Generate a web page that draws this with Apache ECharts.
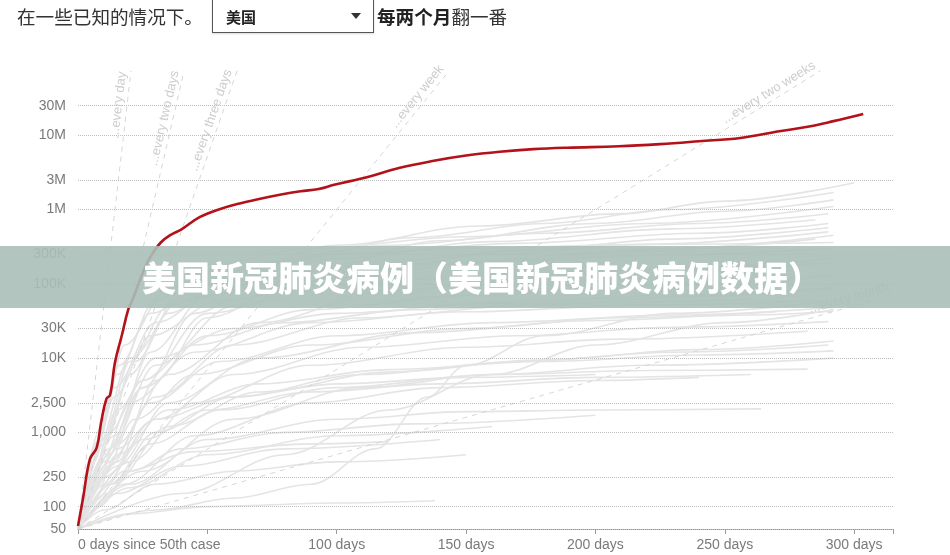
<!DOCTYPE html>
<html>
<head>
<meta charset="UTF-8"/>
<title>美国新冠肺炎病例</title>
<style>
    html, body { margin: 0; padding: 0; background: #fff; }
    #wrap { position: relative; width: 950px; height: 555px; overflow: hidden; }
    #chart { position: absolute; left: 0; top: 0; width: 950px; height: 555px; }
    .head { position: absolute; top: 4px; font-family: "Noto Sans CJK SC", sans-serif; font-size: 18.6px; line-height: 24px; color: #333; white-space: nowrap; }
    .head b { font-weight: 700; color: #222; }
    #pick { position: absolute; left: 212px; top: -1px; width: 162px; height: 34px; box-sizing: border-box; border: 1px solid #555; background: #fff; box-shadow: 0 1px 2px rgba(0,0,0,0.15); }
    #pick span { position: absolute; left: 13px; top: 6px; font-family: "Noto Sans CJK SC", sans-serif; font-size: 15px; font-weight: 700; color: #222; }
    #pick i { position: absolute; left: 138px; top: 13px; width: 0; height: 0; border-left: 5px solid transparent; border-right: 5px solid transparent; border-top: 6px solid #333; }
    #banner { position: absolute; left: 0; top: 246px; width: 950px; height: 62px; box-sizing: border-box; padding-left: 14px; background: rgba(170, 191, 184, 0.9); color: #fff; text-align: center; font-family: "Noto Sans CJK SC", sans-serif; font-weight: 900; font-size: 34px; line-height: 62px; }
</style>
</head>
<body>
<div id="wrap">
    <div id="chart"></div>
    <div class="head" style="left:17px;">在一些已知的情况下。</div>
    <div id="pick"><span>美国</span><i></i></div>
    <div class="head" style="left:377px;"><b>每两个月</b>翻一番</div>
    <div id="banner">美国新冠肺炎病例（美国新冠肺炎病例数据）</div>
</div>
<script type="text/javascript" src="https://cdn.jsdelivr.net/npm/echarts@6.0.0/dist/echarts.min.js"></script>
<script type="text/javascript">

    // 坐标轴刻度
    var xTickDays = [0, 100, 150, 200, 250, 300];
    var xTickLabels = ['0 days since 50th case', '100 days', '150 days', '200 days', '250 days', '300 days'];
    var yTickValues = [50, 100, 250, 1000, 2500, 10000, 25000, 100000, 250000, 1000000, 2500000, 10000000, 25000000];
    var yTickLabels = ['50', '100', '250', '1,000', '2,500', '10K', '30K', '100K', '300K', '1M', '3M', '10M', '30M'];

    // 美国 (天数, 累计病例)
    var usDays = [0, 2, 4.6, 7.2, 9, 11, 12.4, 14.3, 16.9, 19.4, 21, 25, 28, 32, 36, 40, 47, 55, 62.5, 70, 78, 86, 93, 99, 112, 124, 137, 150, 163, 176, 189, 209, 225, 240, 256, 271, 282, 292, 303.5];
    var usCases = [55, 133, 437, 620, 1400, 2850, 3180, 8800, 20000, 45000, 60000, 140000, 230000, 360000, 460000, 540000, 790000, 1020000, 1210000, 1390000, 1580000, 1760000, 1890000, 2150000, 2750000, 3630000, 4500000, 5330000, 6000000, 6500000, 6800000, 7100000, 7600000, 8300000, 9200000, 11300000, 13000000, 15500000, 19400000];

    // 其他国家 (灰线)
    var upperCountries = [
        [[0,50],[10,700],[20,6000],[35,40000],[60,150000],[100,330000],[155,600000],[210,880000],[250,1300000],[300,2300000]],
        [[0,50],[12,500],[25,4000],[45,40000],[80,200000],[130,420000],[180,650000],[230,1000000],[292,1700000]],
        [[0,50],[15,400],[30,5000],[50,35000],[90,150000],[140,380000],[200,650000],[250,950000],[292,1350000]],
        [[0,50],[8,800],[16,8000],[30,60000],[50,180000],[90,300000],[150,430000],[220,650000],[292,1100000]],
        [[0,50],[10,700],[22,9000],[40,80000],[70,200000],[120,330000],[180,480000],[240,650000],[290,880000]],
        [[0,50],[14,900],[28,12000],[50,70000],[100,220000],[160,370000],[230,550000],[285,730000]],
        [[0,50],[9,1200],[18,15000],[35,90000],[60,180000],[110,260000],[170,350000],[240,480000],[290,650000]],
        [[0,50],[12,600],[30,8000],[60,50000],[110,150000],[170,280000],[230,400000],[290,570000]],
        [[0,50],[6,500],[14,4000],[30,30000],[55,90000],[100,170000],[160,250000],[220,340000],[290,500000]],
        [[0,50],[10,400],[25,5000],[50,40000],[100,120000],[160,200000],[230,300000],[292,450000]],
        [[0,50],[8,700],[20,10000],[40,60000],[80,130000],[140,190000],[210,270000],[285,400000]],
        [[0,50],[10,800],[20,9000],[35,50000],[60,150000],[100,250000],[150,300000],[220,340000],[292,360000]],
        [[0,50],[7,700],[15,6000],[28,40000],[50,100000],[90,150000],[150,190000],[220,240000],[290,300000]]
    ];
    var middleCountries = [
        [[0,50],[15,700],[35,6000],[70,30000],[120,80000],[180,130000],[240,170000],[292,220000]],
        [[0,50],[6,400],[14,3000],[28,20000],[55,60000],[100,100000],[160,130000],[230,160000],[292,190000]],
        [[0,50],[10,500],[25,4000],[50,20000],[90,45000],[150,70000],[220,95000],[292,130000]],
        [[0,50],[12,400],[30,3000],[60,15000],[110,35000],[170,50000],[240,68000],[292,90000]],
        [[0,50],[7,300],[15,2000],[30,10000],[60,25000],[100,40000],[160,55000],[230,70000],[292,85000]],
        [[0,50],[8,300],[20,2500],[45,12000],[90,30000],[150,42000],[220,52000],[290,60000]],
        [[0,50],[5,200],[12,1000],[25,5000],[45,15000],[80,30000],[130,45000],[190,55000],[260,62000]],
        [[0,50],[12,350],[28,2500],[55,9000],[100,20000],[160,30000],[230,38000],[292,48000]],
        [[0,50],[15,350],[35,2500],[70,10000],[130,22000],[200,32000],[260,38000],[292,43000]],
        [[0,50],[9,250],[22,1500],[45,6000],[90,15000],[150,25000],[210,35000],[270,42000]],
        [[0,50],[40,150],[80,500],[120,2000],[160,6000],[200,15000],[250,30000],[292,45000]],
        [[0,50],[30,90],[60,130],[90,200],[115,600],[135,3000],[150,8000],[180,20000],[230,40000],[290,58000]],
        [[0,50],[10,250],[30,1500],[60,6000],[110,14000],[170,20000],[230,26000],[290,31000]],
        [[0,50],[20,400],[45,2500],[90,8000],[150,14000],[210,18000],[282,23000]],
        [[0,50],[13,200],[35,1200],[70,3500],[120,6500],[180,9500],[240,13000],[292,17000]],
        [[0,50],[12,200],[30,1000],[60,3000],[110,6000],[170,9000],[230,12000],[290,15000]]
    ];
    var lowerCountries = [
        [[0,50],[5,100],[15,500],[35,2000],[70,4500],[120,7000],[180,9000],[240,11000],[292,12500]],
        [[0,50],[11,150],[28,700],[55,2000],[100,4000],[160,6000],[220,8000],[292,10000]],
        [[0,50],[25,300],[60,1500],[110,4000],[160,6000],[220,6800],[282,7100]],
        [[0,50],[10,200],[25,800],[50,2000],[90,3500],[140,4500],[200,5500],[260,6000]],
        [[0,50],[18,200],[45,900],[90,2500],[140,4000],[200,5000],[240,5500]],
        [[0,50],[5,150],[15,600],[30,1500],[60,3000],[100,4500],[150,5500],[200,6000]],
        [[0,50],[20,200],[50,800],[100,1500],[150,1900],[200,2000],[264,2070]],
        [[0,50],[8,100],[20,300],[40,600],[80,1000],[130,1300],[200,1700]],
        [[0,50],[20,180],[50,500],[100,900],[160,1200]],
        [[0,50],[15,150],[40,350],[80,600],[140,800]],
        [[0,50],[6,120],[18,300],[45,550],[90,700],[120,750]],
        [[0,50],[10,90],[30,200],[60,300],[100,400],[150,500]],
        [[0,50],[20,80],[50,100],[100,112],[138,120]]
    ];

    // 翻倍参考线
    var guideNames = ['...every day', '...every two days', '...every three days', '...every week', '...every two weeks', '...every month'];
    var guideEndDays = [20.5, 41, 61.5, 143.5, 287, 315];
    var guideEndCases = [74000000, 74000000, 74000000, 74000000, 74000000, 72000];

    var axisFont = '"Liberation Sans", Arial, sans-serif';
    var chart = echarts.init(document.getElementById('chart'));

    var buildSeries = function() {
        var series = [];
        var grayLines = upperCountries.concat(middleCountries, lowerCountries);
        for (var i = 0; i < grayLines.length; i++) {
            series.push({
                type: 'line',
                data: grayLines[i],
                symbol: 'none',
                smooth: 0.35,
                smoothMonotone: 'x',
                silent: true,
                z: 2,
                lineStyle: { color: '#e4e4e4', width: 1.6 }
            });
        }
        for (var g = 0; g < guideNames.length; g++) {
            series.push({
                type: 'line',
                data: [],
                silent: true,
                z: 3,
                markLine: {
                    silent: true,
                    symbol: ['none', 'none'],
                    animation: false,
                    lineStyle: { color: '#d6d6d6', width: 1, type: [5, 5] },
                    label: {
                        show: true,
                        position: 'insideEndTop',
                        distance: 2,
                        formatter: guideNames[g],
                        color: '#cdcdcd',
                        fontFamily: axisFont,
                        fontSize: 13
                    },
                    data: [[
                        { coord: [0, 50] },
                        { coord: [guideEndDays[g], guideEndCases[g]] }
                    ]]
                }
            });
        }
        // 横向网格线 + 纵轴标签
        series.push({
            type: 'line',
            data: [],
            silent: true,
            markLine: {
                silent: true,
                symbol: ['none', 'none'],
                animation: false,
                lineStyle: { type: 'dotted', color: '#bdbdbd', width: 1 },
                label: {
                    position: 'start',
                    distance: 12,
                    color: '#7a7a7a',
                    fontFamily: axisFont,
                    fontSize: 14,
                    formatter: function(p) { return yTickLabels[p.dataIndex]; }
                },
                data: yTickValues.map(function(v) { return { yAxis: v }; })
            }
        });
        var usData = [];
        for (var k = 0; k < usDays.length; k++) {
            usData.push([usDays[k], usCases[k]]);
        }
        series.push({
            type: 'line',
            data: usData,
            symbol: 'none',
            smooth: 0.4,
            z: 10,
            lineStyle: { color: '#b3121a', width: 2.6 }
        });
        return series;
    };

    chart.setOption({
        animation: false,
        grid: { left: 78, right: 57, top: 61, bottom: 26, outerBoundsMode: 'none' },
        xAxis: {
            type: 'value',
            min: 0,
            max: 315,
            interval: 50,
            splitLine: { show: false },
            axisLine: { lineStyle: { color: '#999', width: 1 } },
            axisTick: { show: true, length: 5, lineStyle: { color: '#999' } },
            axisLabel: {
                color: '#7a7a7a',
                fontFamily: axisFont,
                fontSize: 14,
                margin: 9,
                alignMinLabel: 'left',
                formatter: function(v) {
                    var idx = xTickDays.indexOf(v);
                    return idx >= 0 ? xTickLabels[idx] : '';
                }
            }
        },
        yAxis: {
            type: 'log',
            logBase: 10,
            min: 50,
            max: 100000000,
            axisLine: { show: false },
            axisTick: { show: false },
            axisLabel: { show: false },
            splitLine: { show: false }
        },
        series: buildSeries()
    });
</script>
</body>
</html>
